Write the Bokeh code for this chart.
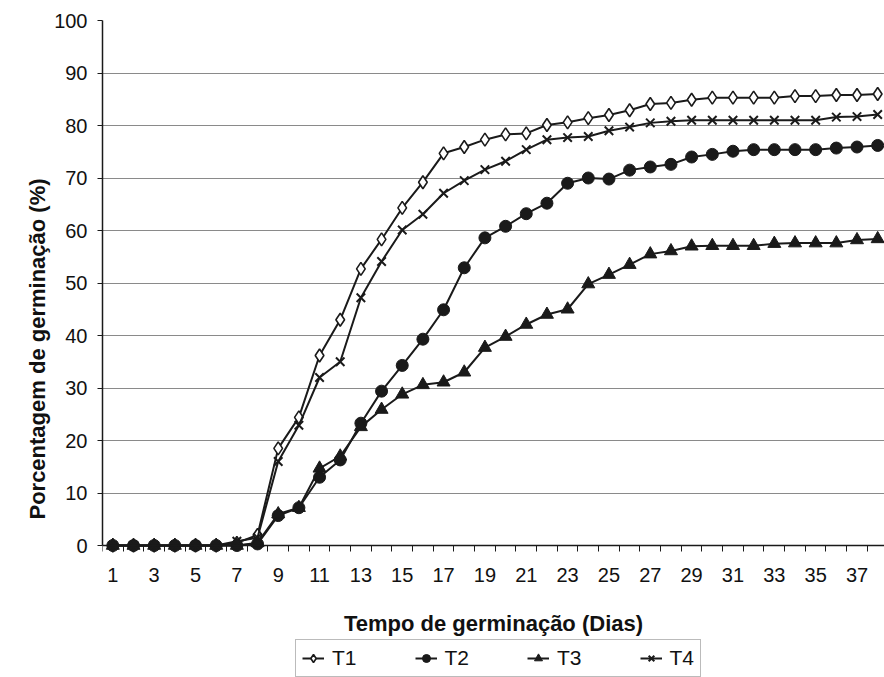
import numpy as np
from bokeh.plotting import figure
from bokeh.models import Range1d, FixedTicker, Legend, LegendItem, LinearAxis
from bokeh.embed import file_html
from bokeh.resources import INLINE

days = list(range(1, 39))
tick_days = list(range(1, 38, 2))
T1 = [0, 0, 0, 0, 0, 0, 0.5, 2, 18.5, 24.4, 36.2, 43, 52.7, 58.3, 64.3, 69.2, 74.7, 75.9, 77.3,
      78.3, 78.5, 80.1, 80.6, 81.4, 82.0, 82.9, 84.1, 84.3, 84.9, 85.3, 85.3, 85.3, 85.3, 85.6,
      85.6, 85.8, 85.8, 86.0]
T2 = [0, 0, 0, 0, 0, 0, 0, 0.3, 5.7, 7.2, 13, 16.3, 23.3, 29.4, 34.3, 39.3, 44.9, 52.9, 58.6,
      60.8, 63.2, 65.2, 69.0, 70.0, 69.8, 71.5, 72.1, 72.6, 74.0, 74.5, 75.1, 75.4, 75.4, 75.4,
      75.4, 75.7, 75.9, 76.2]
T3 = [0, 0, 0, 0, 0, 0, 0, 0.5, 6, 7.2, 14.7, 17, 22.6, 25.9, 28.8, 30.6, 31.1, 33.0, 37.7,
      39.8, 42.1, 44.0, 45.0, 49.8, 51.6, 53.5, 55.5, 56.1, 57.0, 57.1, 57.1, 57.1, 57.5, 57.6,
      57.6, 57.6, 58.2, 58.4]
T4 = [0, 0, 0, 0, 0, 0, 0.8, 1.5, 16, 22.9, 32, 35, 47.2, 54.1, 60.1, 63.1, 67.1, 69.5, 71.6,
      73.2, 75.4, 77.3, 77.7, 77.9, 79.0, 79.7, 80.5, 80.8, 81.0, 81.0, 81.0, 81.0, 81.0, 81.0,
      81.0, 81.6, 81.7, 82.1]
series_names = ["T1", "T2", "T3", "T4"]
x_title = "Tempo de germinação (Dias)"
y_title = "Porcentagem de germinação (%)"

INK = "#1a1a1a"
FONT = "Liberation Sans"

# frame extends below y=0 so that the axis (fixed at 0), its title and the legend fit inside it
p = figure(frame_width=782, frame_height=657, output_backend="svg", toolbar_location=None,
           x_range=Range1d(0.5, 38.33), y_range=Range1d(-25.14, 100),
           x_axis_location=None,
           min_border_left=102, min_border_right=0, min_border_top=20, min_border_bottom=0)
p.outline_line_color = None
p.background_fill_color = "white"
p.border_fill_color = "white"

p.xgrid.grid_line_color = None
p.ygrid.grid_line_color = "#8a8a8a"
p.ygrid.grid_line_width = 1
p.yaxis.ticker = FixedTicker(ticks=list(range(0, 101, 10)))

xa = LinearAxis(fixed_location=0,
                ticker=FixedTicker(ticks=tick_days, minor_ticks=[d - 0.5 for d in days] + [38.5]))
p.add_layout(xa, "below")

for ax in (xa, p.yaxis[0]):
    ax.axis_line_color = INK
    ax.axis_line_width = 1.5
    ax.major_label_text_font = FONT
    ax.major_label_text_font_size = "20px"
    ax.major_label_text_color = "#111111"
    ax.axis_label_text_font = FONT
    ax.axis_label_text_font_style = "bold"
    ax.axis_label_text_font_size = "22px"
    ax.axis_label_text_color = "#111111"

xa.major_tick_line_color = None
xa.major_tick_out = 6
xa.major_tick_in = 0
xa.minor_tick_line_color = INK
xa.minor_tick_out = 6
xa.minor_tick_in = 0
xa.major_label_standoff = 16
xa.axis_label = x_title
xa.axis_label_standoff = 26

ya = p.yaxis[0]
ya.bounds = (0, 100)
ya.major_tick_line_color = INK
ya.major_tick_out = 5
ya.major_tick_in = 0
ya.minor_tick_line_color = None
ya.major_label_standoff = 10
ya.axis_label = y_title
ya.axis_label_standoff = 1

items = []
styles = [
    dict(marker="diamond", size=13, fill_color="white", line_width=1.6),
    dict(marker="circle", size=12, fill_color=INK, line_width=1),
    dict(marker="triangle", size=13, fill_color=INK, line_width=1),
    dict(marker="x", size=12, fill_color=None, line_width=2),
]
for name, ys, st in zip(series_names, [T1, T2, T3, T4], styles):
    ln = p.line(days, ys, line_color=INK, line_width=2)
    sc = p.scatter(days, ys, line_color=INK, **st)
    items.append(LegendItem(label=name, renderers=[ln, sc]))

legend = Legend(items=items, orientation="horizontal", location=(193, 0))
legend.label_text_font = FONT
legend.label_text_font_size = "21px"
legend.label_text_color = "#111111"
legend.glyph_width = 22
legend.glyph_height = 20
legend.label_standoff = 8
legend.spacing = 58
legend.padding = 6
legend.margin = 0
legend.border_line_color = "#777777"
legend.border_line_width = 1
legend.background_fill_color = "white"
p.add_layout(legend, "center")

open("out.html", "w").write(file_html(p, INLINE))
